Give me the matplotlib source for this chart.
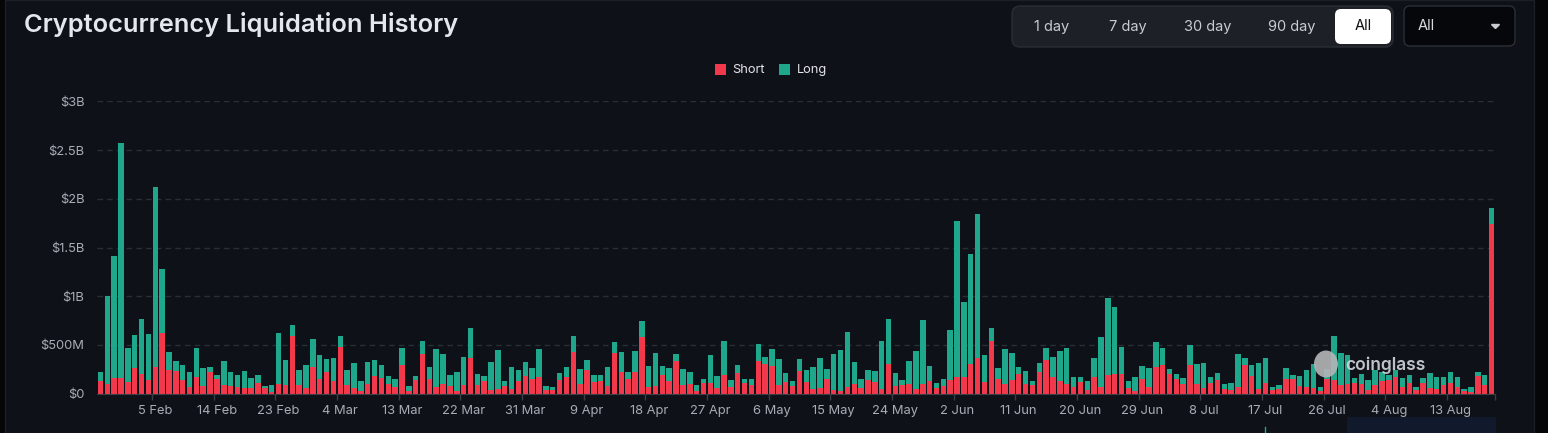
import numpy as np
import pandas as pd
import matplotlib
matplotlib.use("Agg")
import matplotlib.pyplot as plt
from matplotlib.patches import FancyBboxPatch, Rectangle, Ellipse

# Data (USD millions per day), 28 Jan .. 19 Aug
start_date = "2025-01-28"
short_vals = [
    130, 96, 157, 157, 116, 260, 205, 140, 277, 626,
    243, 236, 140, 68, 171, 82, 226, 150, 89, 82,
    68, 55, 55, 113, 55, 21, 96, 89, 588, 88,
    61, 272, 153, 228, 126, 476, 85, 58, 24, 99,
    184, 163, 99, 68, 296, 31, 136, 411, 150, 68,
    95, 75, 27, 92, 367, 85, 129, 34, 48, 75,
    44, 129, 187, 153, 170, 34, 41, 143, 173, 428,
    102, 241, 122, 129, 75, 422, 224, 150, 224, 578,
    71, 75, 190, 133, 337, 85, 102, 31, 112, 109,
    54, 190, 68, 214, 112, 85, 337, 309, 289, 88,
    119, 78, 235, 116, 44, 58, 150, 41, 24, 65,
    95, 58, 146, 122, 48, 303, 75, 85, 95, 48,
    100, 130, 56, 77, 145, 171, 171, 301, 369, 123,
    544, 150, 103, 144, 202, 103, 89, 226, 345, 171,
    130, 96, 68, 120, 34, 174, 65, 195, 202, 203,
    54, 31, 153, 65, 279, 292, 201, 150, 99, 292,
    95, 54, 109, 143, 48, 37, 65, 292, 184, 51,
    109, 37, 48, 150, 150, 78, 65, 61, 27, 150,
    143, 89, 99, 106, 99, 41, 92, 126, 136, 167,
    68, 109, 41, 109, 55, 48, 89, 109, 68, 24,
    20, 181, 85, 1739,
]
long_vals = [
    96, 906, 1255, 2415, 356, 342, 558, 476, 1847, 657,
    188, 99, 154, 151, 301, 178, 48, 42, 250, 137,
    124, 178, 106, 75, 20, 65, 526, 256, 113, 157,
    231, 292, 241, 129, 245, 116, 160, 258, 102, 231,
    163, 133, 78, 88, 173, 47, 48, 126, 129, 394,
    313, 115, 191, 285, 310, 122, 58, 296, 397, 58,
    235, 116, 136, 116, 286, 41, 24, 68, 99, 167,
    156, 109, 68, 68, 204, 105, 204, 74, 211, 173,
    211, 340, 92, 129, 74, 167, 122, 54, 41, 285,
    133, 354, 71, 85, 41, 65, 170, 72, 173, 269,
    95, 48, 122, 125, 228, 313, 102, 370, 428, 564,
    235, 98, 95, 109, 496, 459, 136, 61, 245, 391,
    655, 153, 56, 75, 505, 1601, 773, 1132, 1471, 274,
    126, 113, 355, 273, 72, 130, 41, 89, 120, 209,
    311, 376, 100, 54, 96, 192, 516, 787, 692, 275,
    75, 139, 133, 200, 248, 181, 51, 54, 61, 204,
    211, 266, 61, 68, 47, 75, 343, 72, 115, 262,
    258, 31, 37, 115, 47, 109, 176, 245, 44, 100,
    454, 327, 297, 51, 102, 102, 154, 102, 58, 79,
    89, 82, 24, 51, 153, 123, 78, 109, 99, 27,
    48, 41, 109, 171,
]
y_ticks = [0, 500, 1000, 1500, 2000, 2500, 3000]
y_labels = ["$0", "$500M", "$1B", "$1.5B", "$2B", "$2.5B", "$3B"]
range_buttons = ["1 day", "7 day", "30 day", "90 day", "All"]

dates = pd.date_range(start_date, periods=len(short_vals))

# colours
BG = "#0e1117"
RED = "#f2394b"
TEAL = "#1fa78b"
GRID = "#2a2e37"
TXT = "#a8acb4"

plt.rcParams["font.family"] = ["Inter", "DejaVu Sans"]

W, H = 1548, 433
fig = plt.figure(figsize=(W / 100, H / 100), dpi=100)
fig.patch.set_facecolor("#050608")

# pixel-space background layer
bg = fig.add_axes([0, 0, 1, 1], zorder=-5)
bg.set_xlim(0, W)
bg.set_ylim(H, 0)
bg.axis("off")
bg.add_patch(Rectangle((5, 0), 1529, H, facecolor=BG, edgecolor="#1c1f26", lw=1))

# header buttons
bg.add_patch(FancyBboxPatch((1012, 6), 381, 41, boxstyle="round,pad=0,rounding_size=8",
                            facecolor="#1d2027", edgecolor="#2a2d35", lw=1))
bg.add_patch(FancyBboxPatch((1335, 9), 56, 35, boxstyle="round,pad=0,rounding_size=6",
                            facecolor="white", edgecolor="none"))
btn_x = [1052, 1128, 1208, 1292, 1363]
for lbl, bx in zip(range_buttons, btn_x):
    col = "#111111" if lbl == "All" else "#c8cbd1"
    bg.text(bx, 26.5, lbl, ha="center", va="center", fontsize=10.5, color=col)
bg.add_patch(FancyBboxPatch((1404, 6), 111, 40, boxstyle="round,pad=0,rounding_size=6",
                            facecolor="#05070b", edgecolor="#2c2f37", lw=1))
bg.text(1418, 26.5, "All", ha="left", va="center", fontsize=10.5, color="#d6d9de")
bg.fill([1491.5, 1499.5, 1495.5], [24.5, 24.5, 28.5], color="#c8cbd1")

# title
bg.text(24, 32, "Cryptocurrency Liquidation History", ha="left", va="baseline",
        fontsize=18.3, fontweight="semibold", color="#e4e8ee")

# legend
bg.add_patch(Rectangle((715, 64), 11, 11, facecolor=RED))
bg.text(732, 70, "Short", ha="left", va="center", fontsize=9.2, color="#e3e5e9")
bg.add_patch(Rectangle((779, 64), 11, 11, facecolor=TEAL))
bg.text(797, 70, "Long", ha="left", va="center", fontsize=9.2, color="#e3e5e9")

# scroll strip at bottom right
bg.add_patch(Rectangle((1347, 417), 149, 16, facecolor="#111a2c", edgecolor="none"))
bg.plot([1265, 1265], [427, 433], color=TEAL, lw=1)

# main chart
ax = fig.add_axes([97 / W, 1 - 393.75 / H, 1398 / W, 292.5 / H])
ax.set_facecolor("none")
x = np.arange(len(short_vals))
ax.bar(x, short_vals, width=0.8, color=RED, edgecolor="none", zorder=3)
ax.bar(x, long_vals, bottom=short_vals, width=0.8, color=TEAL, edgecolor="none", zorder=3)

ax.set_xlim(-0.5, len(x) - 0.5)
ax.set_ylim(0, 3000)
ax.set_yticks(y_ticks)
ax.set_yticklabels(y_labels)
for yv in y_ticks[1:]:
    ax.axhline(yv, color=GRID, lw=1, ls=(0, (4, 3)), zorder=1)

lab_idx = list(range(8, len(x), 9))
ax.set_xticks(lab_idx)
ax.set_xticklabels([f"{d.day} {d.strftime('%b')}" for d in dates[lab_idx]])
ax.set_xticks([i - 0.5 for i in lab_idx] + [len(x) - 0.5], minor=True)
ax.tick_params(axis="x", which="major", length=0, pad=8, labelsize=9.3, labelcolor=TXT)
ax.tick_params(axis="x", which="minor", length=4, color="#3a3e48", width=1)
ax.tick_params(axis="y", length=0, pad=9, labelsize=9.3, labelcolor=TXT)

for s in ["top", "right", "left"]:
    ax.spines[s].set_visible(False)
ax.spines["bottom"].set_color("#3a3e48")
ax.spines["bottom"].set_zorder(4)

# watermark
wm = fig.add_axes([0, 0, 1, 1], zorder=10)
wm.set_xlim(0, W)
wm.set_ylim(H, 0)
wm.axis("off")
wm.add_patch(Ellipse((1326, 364), 24, 27, facecolor="#b5b6b8", alpha=0.9, edgecolor="none"))
wm.text(1345, 365, "coinglass", ha="left", va="center", fontsize=12.5,
        fontweight="semibold", color="#d3d6da", alpha=0.9)

fig.savefig("out.png", dpi=100, facecolor=fig.get_facecolor())
